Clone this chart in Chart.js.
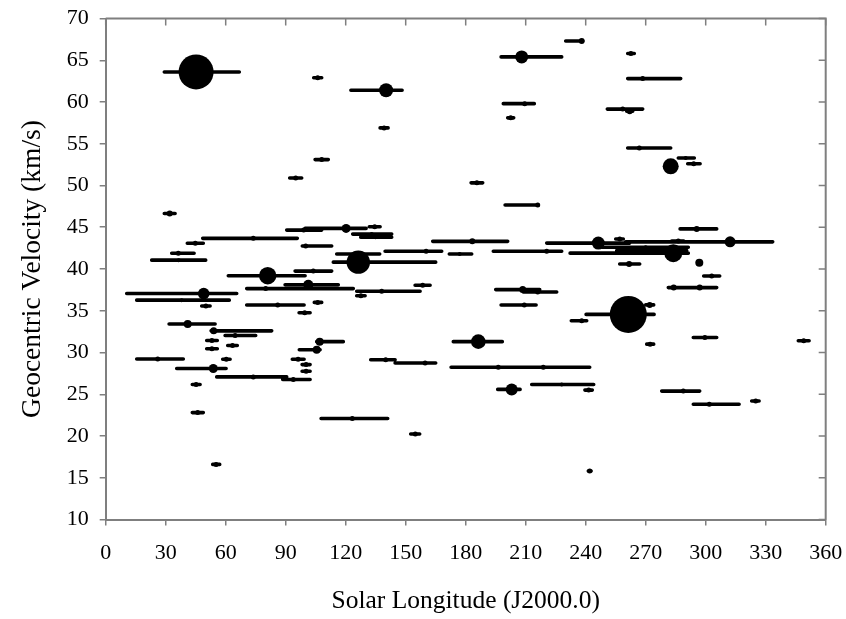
<!DOCTYPE html>
<html>
<head>
<meta charset="utf-8">
<script src="https://cdn.jsdelivr.net/npm/chart.js@4.4.1/dist/chart.umd.min.js"></script>
<style>
  html, body { margin: 0; padding: 0; background: #fff; }
  #wrap { width: 846px; height: 619px; }
</style>
</head>
<body>
<div id="wrap"><canvas id="chart" width="846" height="619"></canvas></div>
<script>
// one entry per shower: solar longitude of max, velocity, activity range, marker strength
const lon = [45.2, 106, 108, 208, 238, 140.2, 139.2, 209.5, 202.5, 262.6,
  268.5, 258.5, 262, 266.8, 282.5, 290, 294, 295.5, 312.2, 246.3,
  286.3, 257, 283.8, 270, 275.5, 296.8, 261.7, 303, 284, 297,
  261.3, 272, 238, 272.2, 299.6, 349, 241.5, 288.8, 301.8, 325,
  127.6, 209.3, 107, 186.3, 140, 159.7, 196.3, 218.8, 203, 228,
  123.3, 154.8, 49, 38, 50.1, 86, 106, 99.5, 41, 54,
  64.7, 53.1, 63.4, 53.1, 105.5, 26, 60.3, 96.2, 100.2, 53.8,
  100.2, 73.8, 93.8, 45.2, 46, 55.2, 242, 95, 32, 99,
  120.2, 73.8, 44.8, 100, 36.3, 36.5, 81, 103.8, 80, 101.3,
  126.3, 126, 185.6, 216, 134.5, 133, 135, 183.3, 160.2, 177,
  220.5, 138, 158.5, 208.5, 216];
const vel = [63.6, 62.9, 53.1, 65.4, 67.3, 61.4, 56.9, 59.8, 58.1, 65.8,
  62.8, 59.15, 58.9, 54.5, 52.3, 53.3, 52.6, 44.8, 43.25, 43.1,
  43.35, 43.6, 41.9, 42.6, 42.2, 40.75, 40.6, 39.16, 37.77, 37.77,
  34.56, 35.7, 33.8, 31.0, 31.8, 31.4, 25.5, 25.38, 23.8, 24.2,
  36.8, 35.68, 31.3, 31.3, 29.14, 28.74, 28.23, 28.23, 25.58, 26.17,
  22.1, 20.24, 37.06, 36.27, 35.56, 35.68, 36.0, 34.76, 33.42, 32.59,
  32.03, 31.44, 30.84, 30.45, 30.33, 29.22, 29.2, 29.2, 28.55, 28.08,
  27.76, 27.08, 26.77, 26.17, 22.8, 16.6, 15.8, 50.9, 46.64, 44.66,
  44.86, 43.67, 43.08, 42.76, 41.89, 41.06, 39.2, 39.75, 37.65, 38.12,
  40.82, 41.8, 50.32, 47.67, 45.06, 44.18, 43.8, 43.31, 42.13, 41.8,
  42.13, 37.34, 38.05, 37.53, 37.25];
const lonFrom = [29.3, 104, 104.7, 197.7, 230, 122.6, 137.2, 198.8, 201, 261,
  261, 250.8, 260.5, 261, 282.5, 286.3, 291, 287.2, 260, 220.5,
  283, 255, 232.2, 248, 255.5, 296.8, 257, 299, 281.3, 297,
  240.2, 270, 232.8, 270.5, 293.8, 346.3, 239.6, 278, 293.8, 323,
  125.5, 197.7, 105.5, 173.8, 132.5, 144.7, 172.7, 196, 196, 213,
  107.7, 152.5, 10.5, 15.5, 48, 70.5, 104.3, 96.7, 31.7, 52.7,
  59.7, 50.5, 61, 50.5, 96.8, 15.5, 58.5, 93.3, 98.2, 35.5,
  98.2, 55.5, 88.5, 43.3, 43.3, 53.5, 241.3, 92, 29.3, 90.5,
  99.7, 48.5, 40.8, 98.3, 33, 23, 61.3, 94.7, 70.5, 89.7,
  113.8, 115.5, 182.7, 199.7, 131.8, 123.5, 127.5, 163.5, 139.7, 171.8,
  193.8, 125.5, 154.7, 195, 208.8];
const lonTo = [66.8, 108, 111.3, 228, 238.5, 148.2, 141.2, 214.3, 204, 264.3,
  287.5, 268.5, 263.5, 282.5, 282.5, 294.3, 297.2, 305.5, 333.5, 262,
  289, 258.8, 291.3, 291.3, 290.5, 296.8, 267, 307, 305.5, 297,
  274.2, 274, 240.5, 274, 305.5, 351.7, 243.3, 297, 316.7, 326.7,
  129.7, 215.2, 118.8, 198.3, 144.7, 165, 220, 242, 207.2, 244,
  141, 157, 65.5, 61.8, 52.2, 99.2, 108, 102.2, 54.7, 83,
  75, 55.8, 65.8, 55.8, 107.2, 38.8, 62.2, 99.2, 102.2, 60.2,
  102.2, 90.5, 102.2, 47.2, 48.8, 57, 242.7, 98, 34.7, 108,
  130.2, 95.8, 48.8, 113, 44.2, 50, 99.7, 113, 123.8, 116.3,
  165, 137, 188.5, 216.3, 137.2, 143, 143, 201, 168, 183,
  228, 157.2, 162.2, 217, 225.5];
const strength = [17.5, 2.5, 2.5, 6.5, 3, 7, 2.5, 2.5, 2.5, 2.5,
  2.5, 2.5, 3, 2.5, 8, 2, 2.5, 3, 5.5, 6.5,
  2.5, 2.5, 9, 2, 2.5, 4, 3, 2.5, 3, 3,
  18.5, 3, 2.5, 2.5, 2.5, 2.5, 2.5, 2.5, 2.5, 2.5,
  2.5, 2.5, 4, 7.3, 2.5, 2.5, 2.5, 2.5, 6, 2,
  2.5, 2.5, 5.8, 2, 2.5, 2.5, 2.5, 2.5, 4, 3.5,
  2.5, 2.5, 2.5, 2.5, 4, 2.5, 2.5, 2.5, 2.5, 4.5,
  2.5, 2.5, 2.5, 2.5, 2.5, 2.5, 2.5, 2.5, 3, 2.5,
  4.5, 2.5, 2.5, 2.5, 2.5, 2, 8.7, 2.5, 2.5, 5,
  11.7, 2, 2.5, 2.5, 2.5, 2, 2, 3, 2.5, 2,
  2.5, 2.5, 2.5, 3.5, 2.5];

const xTicks = [0, 30, 60, 90, 120, 150, 180, 210, 240, 270, 300, 330, 360];
const yTicks = [10, 15, 20, 25, 30, 35, 40, 45, 50, 55, 60, 65, 70];

const axisGray = '#7f7f7f';
const serif = 'Liberation Serif';

const bubbles = lon.map((x, i) => ({ x: x, y: vel[i], r: strength[i] }));

// horizontal activity bars, broken apart by null points
const bars = [];
lon.forEach((_, i) => {
  bars.push({ x: lonFrom[i], y: vel[i] }, { x: lonTo[i], y: vel[i] }, { x: lonTo[i], y: null });
});

// top and right frame with inward ticks
const framePlugin = {
  id: 'frame',
  afterDraw(chart) {
    const { ctx, chartArea: a, scales } = chart;
    ctx.save();
    ctx.strokeStyle = axisGray;
    ctx.lineWidth = 2;
    ctx.beginPath();
    ctx.moveTo(a.left, a.top);
    ctx.lineTo(a.right, a.top);
    ctx.lineTo(a.right, a.bottom);
    ctx.stroke();
    ctx.lineWidth = 1.5;
    ctx.beginPath();
    xTicks.forEach(v => {
      const px = scales.x.getPixelForValue(v);
      ctx.moveTo(px, a.top);
      ctx.lineTo(px, a.top + 7);
    });
    yTicks.forEach(v => {
      const py = scales.y.getPixelForValue(v);
      ctx.moveTo(a.right, py);
      ctx.lineTo(a.right - 7, py);
    });
    ctx.stroke();
    ctx.restore();
  }
};

new Chart(document.getElementById('chart'), {
  type: 'bubble',
  data: {
    datasets: [
      {
        type: 'line',
        data: bars,
        borderColor: '#000',
        borderWidth: 3.6,
        borderCapStyle: 'round',
        pointRadius: 0,
        spanGaps: false,
        fill: false,
        order: 2
      },
      {
        data: bubbles,
        backgroundColor: '#000',
        borderWidth: 0,
        order: 1
      }
    ]
  },
  options: {
    responsive: false,
    animation: false,
    events: [],
    layout: { padding: { top: 12.5, right: 20.3, left: 0, bottom: 0 } },
    plugins: { legend: { display: false }, tooltip: { enabled: false } },
    scales: {
      x: {
        type: 'linear',
        min: 0,
        max: 360,
        afterBuildTicks: s => { s.ticks = xTicks.map(v => ({ value: v })); },
        afterFit: s => { s.height = 99.5; s.paddingLeft = 0; s.paddingRight = 0; },
        ticks: { color: '#000', font: { family: serif, size: 22 }, padding: 15, maxRotation: 0 },
        grid: { drawOnChartArea: false, drawTicks: true, tickLength: 6, color: axisGray, lineWidth: 1.5 },
        border: { color: axisGray, width: 2 },
        title: { display: true, text: 'Solar Longitude (J2000.0)', color: '#000',
          font: { family: serif, size: 25.5 }, padding: { top: 0, bottom: 2 } }
      },
      y: {
        type: 'linear',
        min: 10,
        max: 70,
        afterBuildTicks: s => { s.ticks = yTicks.map(v => ({ value: v })); },
        afterFit: s => { s.width = 105.7; s.paddingTop = 0; s.paddingBottom = 0; },
        ticks: { color: '#000', font: { family: serif, size: 22 }, padding: 11 },
        grid: { drawOnChartArea: false, drawTicks: true, tickLength: 6, color: axisGray, lineWidth: 1.5 },
        border: { color: axisGray, width: 2 },
        title: { display: true, text: 'Geocentric Velocity (km/s)', color: '#000',
          font: { family: serif, size: 27.5 }, padding: { top: 16, bottom: 0 } }
      }
    }
  },
  plugins: [framePlugin]
});
</script>
</body>
</html>
